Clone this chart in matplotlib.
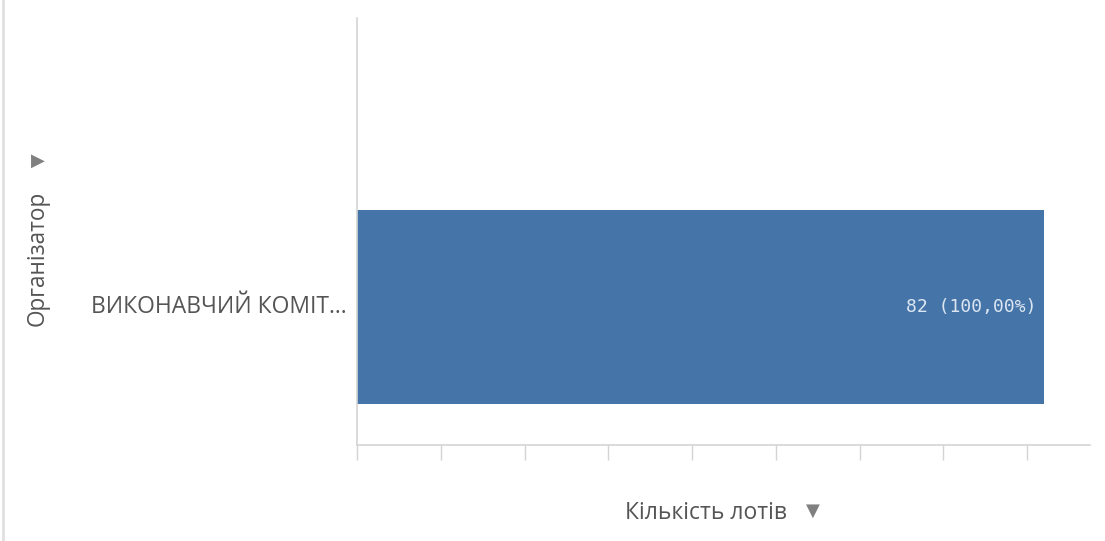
import matplotlib.pyplot as plt

# Data
categories = ["ВИКОНАВЧИЙ КОМІТ..."]
values = [82]
shares = [100.00]

x_label = "Кількість лотів"
y_label = "Організатор"

plt.rcParams['font.family'] = ['Open Sans', 'DejaVu Sans']

fig = plt.figure(figsize=(11.05, 5.41), dpi=100)
ax = fig.add_axes([357 / 1105, 1 - 445 / 541, 733 / 1105, 427 / 541])

bars = ax.barh(range(len(categories)), values, height=0.6, color="#4575a8")

ax.set_xlim(0, 87.5)
ax.set_ylim(-0.427, 0.894)
ax.set_xticks(range(0, 90, 10))
ax.set_xticklabels([])
ax.set_yticks([])

for s in ("top", "right"):
    ax.spines[s].set_visible(False)
for s in ("left", "bottom"):
    ax.spines[s].set_color("#d4d4d4")
    ax.spines[s].set_linewidth(1.2)
ax.tick_params(axis="x", length=11, width=1.0, color="#d4d4d4")

# value labels inside bars
for i, (v, p) in enumerate(zip(values, shares)):
    txt = "{} ({:.2f}%)".format(v, p).replace(".", ",")
    ax.text(v - 0.9, i, txt, ha="right", va="center", fontsize=13,
            family="DejaVu Sans Mono", color="#dce6f2")

# category labels
for i, c in enumerate(categories):
    ax.text(-1.2, i, c, ha="right", va="center", fontsize=16.5, color="#555555")

# axis titles
fig.text(38 / 1105, 1 - 258 / 541, y_label, rotation=90, ha="center", va="center",
         fontsize=16.3, color="#555555")
fig.text(38 / 1105, 1 - 161 / 541, "▶", ha="center", va="center",
         fontsize=13, color="#808080", family="DejaVu Sans")
fig.text(706 / 1105, 1 - 513 / 541, x_label, ha="center", va="center",
         fontsize=16.5, color="#555555")
fig.text(813 / 1105, 1 - 511 / 541, "▼", ha="center", va="center",
         fontsize=13, color="#808080", family="DejaVu Sans")

# faint panel border on the left
fig.add_artist(plt.Line2D([3 / 1105, 3 / 1105], [0, 1], color="#e0e0e0", lw=2))

fig.savefig("out.png", dpi=100)
